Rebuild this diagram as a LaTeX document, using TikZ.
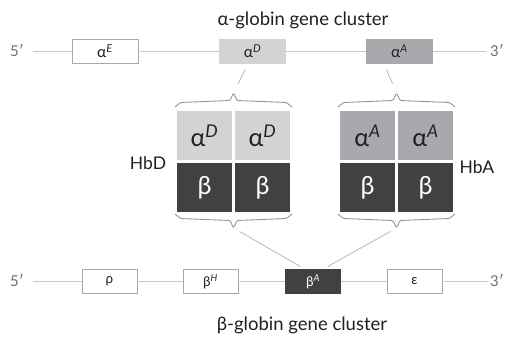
\documentclass[tikz,border=0pt]{standalone}
\usepackage{fontspec}
\setmainfont{Lato}
\usetikzlibrary{calc}
\definecolor{txt}{HTML}{231F20}
\definecolor{endtxt}{HTML}{6D6E71}
\definecolor{linegray}{HTML}{C7C8CA}
\definecolor{boxgray}{HTML}{A7A9AC}
\definecolor{lightg}{HTML}{D1D3D4}
\definecolor{midg}{HTML}{A7A9AC}
\definecolor{darkg}{HTML}{414042}
\definecolor{bracegray}{HTML}{939598}
\definecolor{linkgray}{HTML}{BCBEC0}
\tikzset{
  endlabel/.style={inner sep=0pt, text=endtxt, font=\fontsize{15}{17}\selectfont},
  dnaline/.style={draw=linegray, line width=1pt},
  genebox/.style={draw=boxgray, line width=0.6pt, fill=white, minimum width=66pt, minimum height=24pt, inner sep=0pt, text=txt, font=\fontsize{15.5}{17}\selectfont},
  bgenebox/.style={genebox, minimum width=55pt, font=\fontsize{13.5}{15}\selectfont},
  cell/.style={minimum width=55pt, minimum height=49pt, inner sep=0pt, font=\fontsize{25}{28}\selectfont},
  acellD/.style={cell, fill=lightg, text=txt},
  acellA/.style={cell, fill=midg, text=txt},
  bcell/.style={cell, fill=darkg, text=white},
  bracket/.style={draw=bracegray, line width=0.9pt, rounded corners=1.2pt},
  link/.style={draw=linkgray, line width=0.9pt},
  title/.style={inner sep=0pt, text=txt, font=\fontsize{18.5}{21}\selectfont},
  hblabel/.style={inner sep=0pt, text=txt, font=\fontsize{17.5}{20}\selectfont},
  upbrace/.pic={\draw[bracket] (-58.5,14) -- (-53,9.5) -- (-3.5,7.5) -- (0,0) -- (3.5,7.5) -- (53,9.5) -- (58.5,14);}
}
\newcommand{\sym}[2]{#1\textsuperscript{\itshape #2}}
\begin{document}
\begin{tikzpicture}[x=1pt,y=-1pt]
\useasboundingbox (0,0) rectangle (505,337);

% alpha cluster
\node[title] (atitle) at (303,20) {α-globin gene cluster};
\node[endlabel] (a5) at (17,51) {5′};
\node[endlabel] (a3) at (497,51) {3′};
\coordinate (a5e) at (33,51.5);
\coordinate (a3w) at (486,51.5);
\node[genebox] (aE) at (105,51.5) {\sym{α}{E}};
\node[genebox, fill=lightg, draw=lightg] (aD) at (252.5,51.5) {\sym{α}{D}};
\node[genebox, fill=midg, draw=midg] (aA) at (399.5,51.5) {\sym{α}{A}};
\draw[dnaline] (a5e) -- (aE.west);
\draw[dnaline] (aE.east) -- (aD.west);
\draw[dnaline] (aD.east) -- (aA.west);
\draw[dnaline] (aA.east) -- (a3w);

% HbD
\node[acellD] (d11) at (204.5,135.5) {\sym{α}{D}};
\node[acellD] (d12) at (262.5,135.5) {\sym{α}{D}};
\node[bcell] (d21) at (204.5,187.5) {β};
\node[bcell] (d22) at (262.5,187.5) {β};
\node[hblabel] (hbd) at (148,163) {HbD};
\coordinate (tDtop) at (233.5,93);
\coordinate (tDbot) at (233.5,228);
\pic at (tDtop) {upbrace};
\pic[yscale=-1] at (tDbot) {upbrace};

% HbA
\node[acellA] (e11) at (367.5,135.5) {\sym{α}{A}};
\node[acellA] (e12) at (425.5,135.5) {\sym{α}{A}};
\node[bcell] (e21) at (367.5,187.5) {β};
\node[bcell] (e22) at (425.5,187.5) {β};
\node[hblabel] (hba) at (477,167) {HbA};
\coordinate (tAtop) at (396.5,93);
\coordinate (tAbot) at (396.5,228);
\pic at (tAtop) {upbrace};
\pic[yscale=-1] at (tAbot) {upbrace};

% beta cluster
\node[endlabel] (b5) at (17,281) {5′};
\node[endlabel] (b3) at (497,281) {3′};
\coordinate (b5e) at (33,281.5);
\coordinate (b3w) at (488,281.5);
\node[bgenebox] (rho) at (109.5,281.5) {ρ};
\node[bgenebox] (bH) at (210.5,281.5) {\sym{β}{H}};
\node[bgenebox, fill=darkg, draw=darkg, text=white] (bA) at (313,281.5) {\sym{β}{A}};
\node[bgenebox] (eps) at (414.5,281.5) {ε};
\draw[dnaline] (b5e) -- (rho.west);
\draw[dnaline] (rho.east) -- (bH.west);
\draw[dnaline] (bH.east) -- (bA.west);
\draw[dnaline] (bA.east) -- (eps.west);
\draw[dnaline] (eps.east) -- (b3w);
\node[title] (btitle) at (302,325) {β-globin gene cluster};

% connectors
\draw[link, shorten <=6pt, shorten >=10pt] ($(aD.south)+(-4.5,0)$) -- (tDtop);
\draw[link, shorten <=6pt, shorten >=10pt] ($(aA.south)+(-15.5,0)$) -- (tAtop);
\draw[link, shorten <=7pt, shorten >=5.5pt] (tDbot) -- ($(bA.north)+(-8,0)$);
\draw[link, shorten <=7pt, shorten >=5.5pt] (tAbot) -- ($(bA.north)+(10,0)$);
\end{tikzpicture}
\end{document}
